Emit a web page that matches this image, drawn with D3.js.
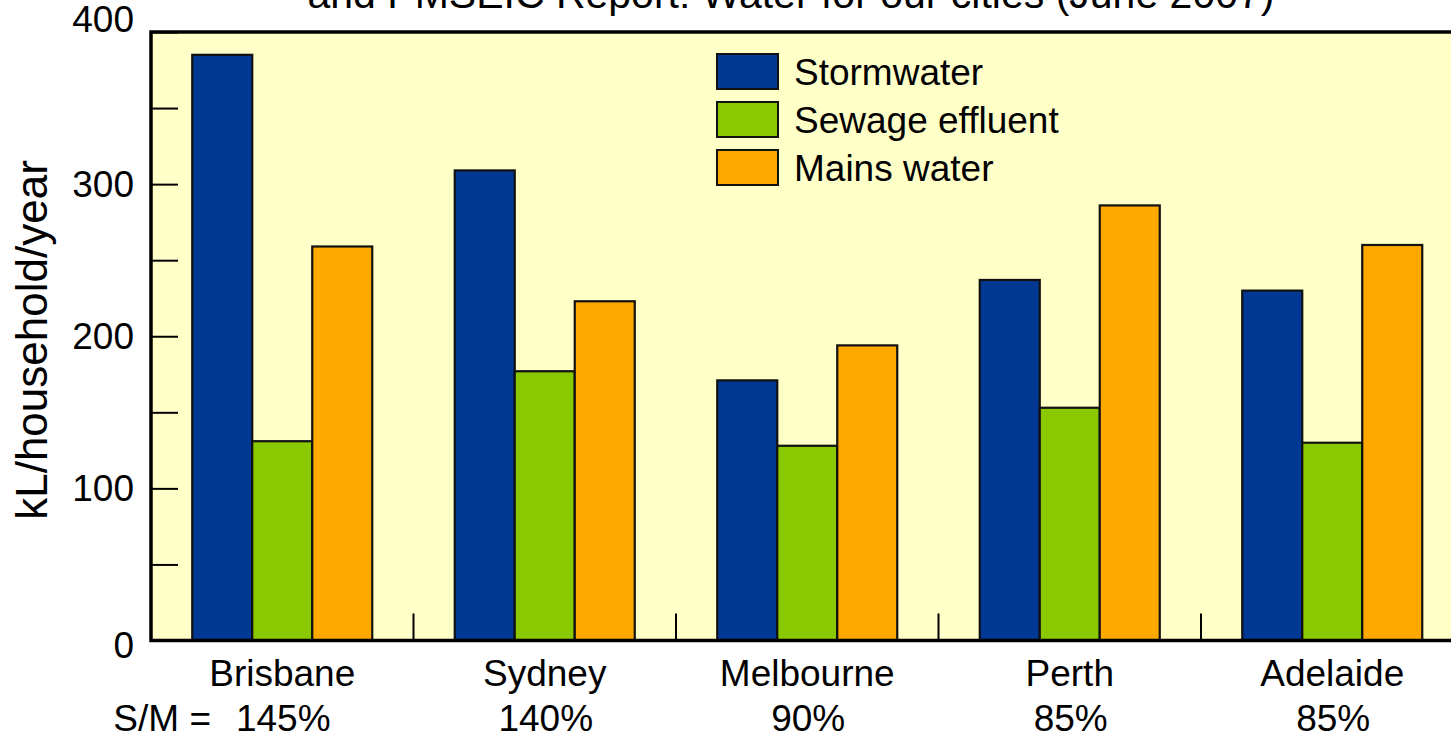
<!DOCTYPE html>
<html><head><meta charset="utf-8">
<script src="https://cdn.jsdelivr.net/npm/d3@7"></script>
<style>
body{margin:0;background:#fff;overflow:hidden}
svg{display:block}
text{font-family:"Liberation Sans",Arial,Helvetica,sans-serif;fill:#000}
</style>
</head><body><svg id="c" width="1451" height="737"></svg>
<script>
// ---- data ----
const cities = ["Brisbane","Sydney","Melbourne","Perth","Adelaide"];
const ratioLabels = ["145%","140%","90%","85%","85%"];
const seriesNames = ["Stormwater","Sewage effluent","Mains water"];
const stormwater = [385,309,171,237,230];
const sewageEffluent = [131,177,128,153,130];
const mainsWater = [259,223,194,286,260];
const yTicks = [0,50,100,150,200,250,300,350,400];
const yTickLabels = ["0","","100","","200","","300","","400"];
const titleText = "and PMSEIC Report: Water for our cities (June 2007)";
const yLabelText = "kL/household/year";
const ratioPrefix = "S/M =";
const colors = ["#003893","#8ac800","#ffa800"];

const seriesValues = [stormwater, sewageEffluent, mainsWater];
const rows = cities.map((c,i)=>({city:c, values: seriesNames.map((s,j)=>({series:s, value:seriesValues[j][i], idx:j}))}));

const svg = d3.select("#c");
const x0 = d3.scaleBand().domain(cities).range([151,1463.5]).paddingInner(0.3143).paddingOuter(0.15715);
const x1 = d3.scaleBand().domain(seriesNames).range([0,x0.bandwidth()]);
const y = d3.scaleLinear().domain([0,400]).range([640.5,32]);
const color = d3.scaleOrdinal().domain(seriesNames).range(colors);

// title (partially cut at top, as in the reference)
svg.append("text").attr("x",791).attr("y",8).attr("text-anchor","middle")
  .style("font-size","41px").text(titleText);

// plot background
svg.append("rect").attr("x",151).attr("y",y(400)).attr("width",1463.5-151).attr("height",y(0)-y(400))
  .attr("fill","#ffffc8");

// bars
const g = svg.append("g");
g.selectAll("g.grp").data(rows).join("g").attr("class","grp")
  .attr("transform",d=>`translate(${x0(d.city)},0)`)
  .selectAll("rect").data(d=>d.values).join("rect")
  .attr("x",d=>x1(d.series)).attr("width",x1.bandwidth())
  .attr("y",d=>y(d.value)).attr("height",d=>y(0)-y(d.value))
  .attr("fill",d=>color(d.series)).attr("stroke","#111").attr("stroke-width",2.2);

// y axis ticks (inward)
const yAxis = d3.axisLeft(y).tickValues(yTicks).tickSize(-27).tickPadding(17)
  .tickFormat((d,i)=>yTickLabels[i]);
const ya = svg.append("g").attr("transform","translate(151,0)").call(yAxis);
ya.select(".domain").remove();
ya.selectAll(".tick line").attr("stroke","#000").attr("stroke-width",2);
ya.selectAll(".tick text").style("font-size","37px").attr("fill","#000")
  .attr("font-family",null)
  .attr("dy",(d)=> d===400 ? "-0.02em" : (d===0 ? "0.45em" : "0.33em"));

// x separator ticks between groups
const seps = cities.slice(0,-1).map(c=>x0(c)+x0.bandwidth()+x0.step()*x0.paddingInner()/2);
svg.append("g").selectAll("line").data(seps).join("line")
  .attr("x1",d=>d).attr("x2",d=>d).attr("y1",y(0)).attr("y2",y(0)-27)
  .attr("stroke","#000").attr("stroke-width",2);

// frame (left, top, bottom)
svg.append("path")
  .attr("d",`M1470,${y(400)}H151V${y(0)}H1470`)
  .attr("fill","none").attr("stroke","#000").attr("stroke-width",3.5);

// category labels
svg.append("g").selectAll("text").data(cities).join("text")
  .attr("x",d=>x0(d)+x0.bandwidth()/2).attr("y",686).attr("text-anchor","middle")
  .style("font-size","37px").text(d=>d);
svg.append("g").selectAll("text").data(ratioLabels).join("text")
  .attr("x",(d,i)=>x0(cities[i])+x0.bandwidth()/2+1).attr("y",731).attr("text-anchor","middle")
  .style("font-size","37px").text(d=>d);
svg.append("text").attr("x",211).attr("y",731).attr("text-anchor","end")
  .style("font-size","37px").text(ratioPrefix);

// y label
svg.append("text").attr("transform","translate(47,340) rotate(-90)").attr("text-anchor","middle")
  .style("font-size","44px").text(yLabelText);

// legend
const lg = svg.append("g").attr("transform","translate(717,54)");
const li = lg.selectAll("g").data(seriesNames).join("g").attr("transform",(d,i)=>`translate(0,${i*48})`);
li.append("rect").attr("width",61).attr("height",35).attr("fill",d=>color(d)).attr("stroke","#111").attr("stroke-width",2);
li.append("text").attr("x",77).attr("y",31).style("font-size","37px").text(d=>d);
</script></body></html>
